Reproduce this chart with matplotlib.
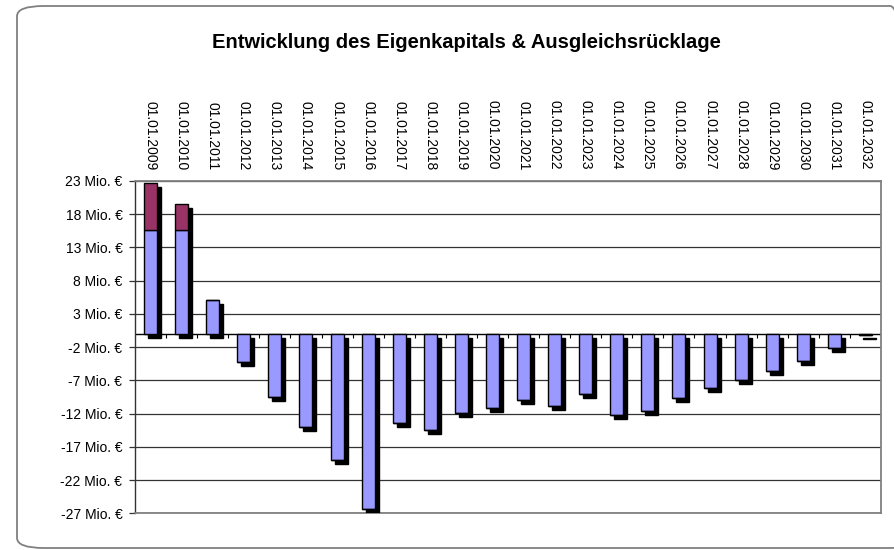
import matplotlib
matplotlib.use("Agg")
import matplotlib.pyplot as plt
import matplotlib.transforms as mtransforms
from matplotlib.patches import FancyBboxPatch
from matplotlib.markers import TICKDOWN

plt.rcParams["font.family"] = ["Liberation Sans", "DejaVu Sans"]

years = list(range(2009, 2033))
labels = [f"01.01.{y}" for y in years]
eigenkapital = [15.6, 15.6, 5.1, -4.2, -9.5, -14.0, -19.0, -26.3, -13.4, -14.5,
                -11.9, -11.1, -10.0, -10.9, -9.0, -12.2, -11.6, -9.6, -8.1, -6.9,
                -5.6, -4.1, -2.1, -0.2]
ruecklage = [7.1, 3.9] + [0.0] * 22
yticks = [23, 18, 13, 8, 3, -2, -7, -12, -17, -22, -27]

C_BLUE = "#9999ff"
C_RED = "#993366"

fig = plt.figure(figsize=(8.94, 5.5), dpi=100)
fig.patch.set_facecolor("white")

# Rahmen um das ganze Diagramm
frame = FancyBboxPatch((17 / 894, 2 / 550), 900 / 894, 542 / 550,
                       boxstyle="round,pad=0,rounding_size=0.03",
                       transform=fig.transFigure, facecolor="none",
                       edgecolor="#808080", lw=1.3, mutation_aspect=550 / 894)
fig.patches.append(frame)

ax = fig.add_axes([135 / 894, (550 - 513.3) / 550, 746 / 894, 332.3 / 550])
ax.set_xlim(-0.5, len(years) - 0.5)
ax.set_ylim(-27, 23)

x = list(range(len(years)))
w = 0.42
shadow = ax.transData + mtransforms.ScaledTranslation(4 / 100, -4 / 100, fig.dpi_scale_trans)

totals = [a + b for a, b in zip(eigenkapital, ruecklage)]
ax.bar(x, totals, width=w, color="black", edgecolor="black", lw=1, transform=shadow, zorder=3)
ax.bar(x, eigenkapital, width=w, color=C_BLUE, edgecolor="black", lw=1, zorder=4)
ax.bar(x, ruecklage, width=w, bottom=eigenkapital, color=C_RED, edgecolor="black", lw=1, zorder=4)

# Gitterlinien
for t in yticks:
    ax.axhline(t, color="#333333", lw=0.9, zorder=1)

# Kategorienachse bei 0
ax.axhline(0, color="black", lw=1, zorder=2)
bx = [i + 0.5 for i in range(len(years) - 1)]
ax.plot(bx, [0] * len(bx), ls="none", marker=TICKDOWN, color="black",
        markersize=3, mew=0.8, zorder=2)

ax.set_yticks(yticks)
ax.set_yticklabels([f"{t} Mio. €" for t in yticks], fontsize=10)
ax.tick_params(axis="y", direction="out", length=4, width=0.9, color="#333333", pad=5)
ax.set_xticks([])
for s in ["top", "right", "bottom"]:
    ax.spines[s].set_color("#808080")
    ax.spines[s].set_linewidth(1.3)
ax.spines["left"].set_color("#333333")
ax.spines["left"].set_linewidth(1.0)

# Beschriftungen oben
for i, lab in enumerate(labels):
    ax.annotate(lab, xy=(i, 1), xycoords=("data", "axes fraction"),
                xytext=(0, 11), textcoords="offset pixels",
                rotation=270, ha="center", va="bottom", fontsize=10)

fig.text(466 / 894, 1 - 42 / 550, "Entwicklung des Eigenkapitals & Ausgleichsrücklage",
         ha="center", va="center", fontsize=14.5, fontweight="bold")

fig.savefig("out.png", dpi=100, facecolor="white")
